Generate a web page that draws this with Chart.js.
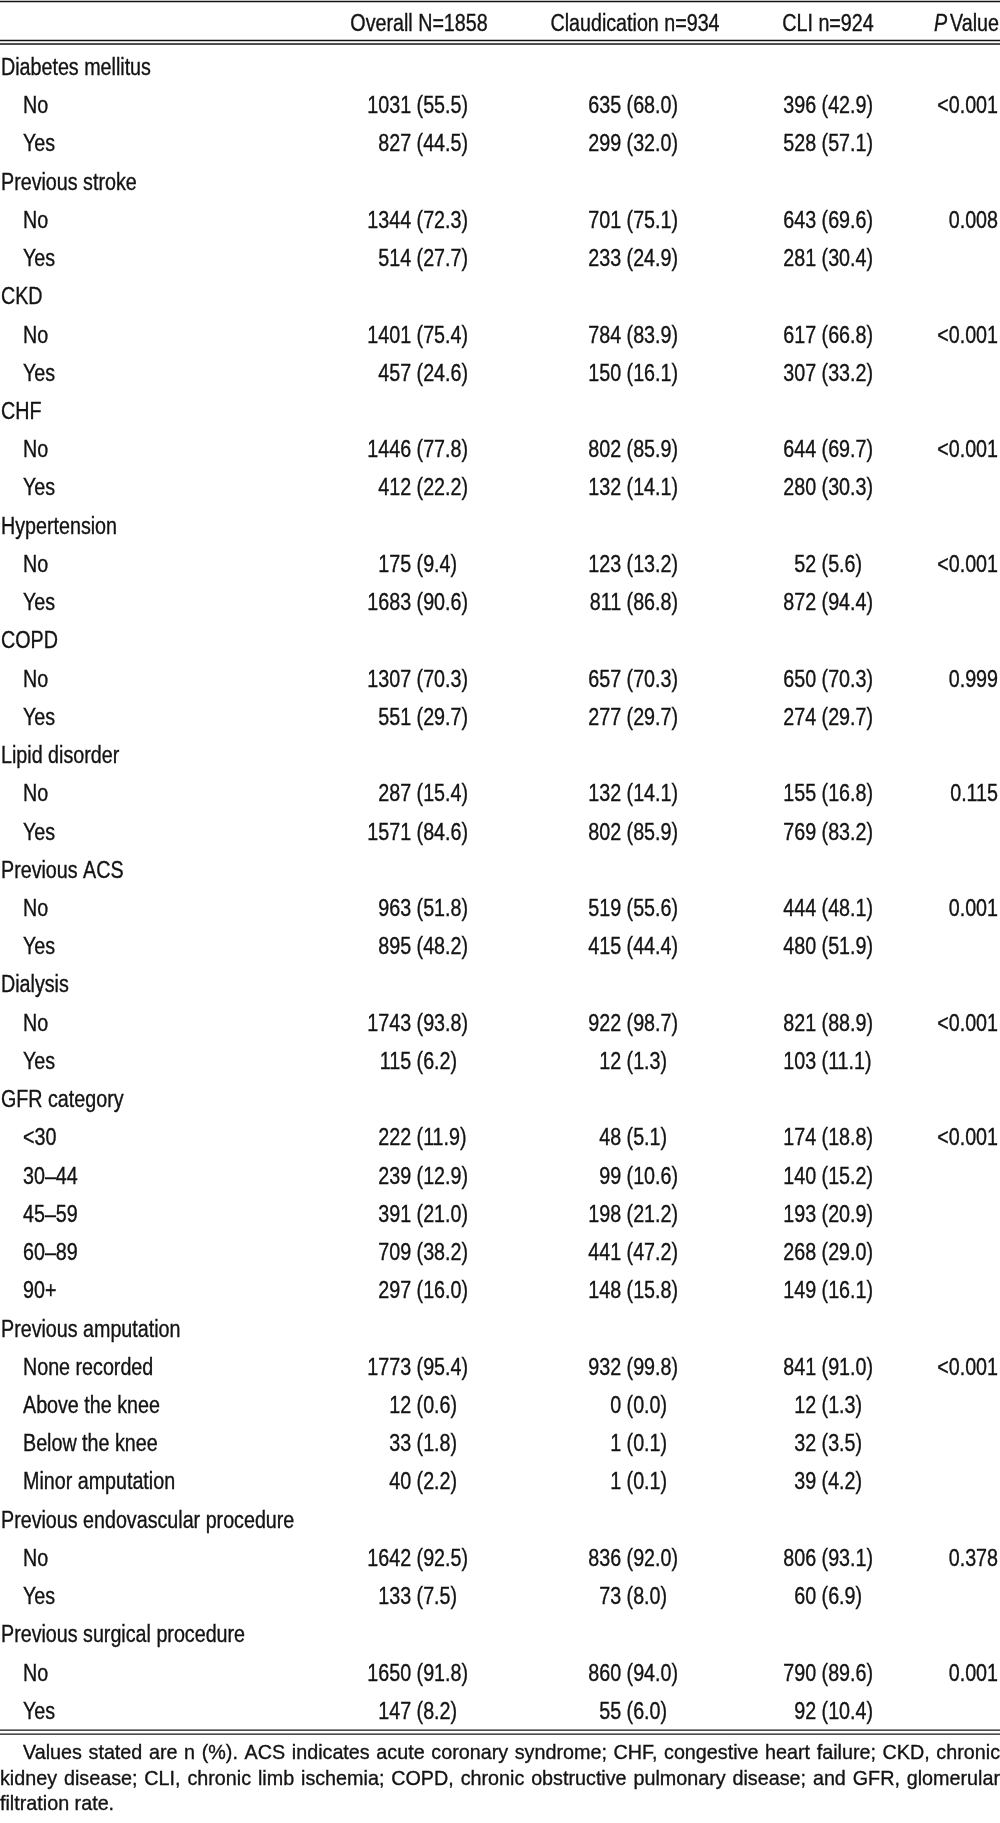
<!DOCTYPE html>
<html>
<head>
<meta charset="utf-8">
<script src="https://cdn.jsdelivr.net/npm/chart.js@4.4.1/dist/chart.umd.min.js"></script>
<style>
  html, body { margin: 0; padding: 0; background: #fff; }
  canvas { display: block; }
</style>
</head>
<body>
<canvas id="tbl" width="1000" height="1823"></canvas>
<script>
// row labels, group headings have no values
const rowLabels = [
  'Diabetes mellitus', 'No', 'Yes',
  'Previous stroke', 'No', 'Yes',
  'CKD', 'No', 'Yes',
  'CHF', 'No', 'Yes',
  'Hypertension', 'No', 'Yes',
  'COPD', 'No', 'Yes',
  'Lipid disorder', 'No', 'Yes',
  'Previous ACS', 'No', 'Yes',
  'Dialysis', 'No', 'Yes',
  'GFR category', '<30', '30–44', '45–59', '60–89', '90+',
  'Previous amputation', 'None recorded', 'Above the knee', 'Below the knee', 'Minor amputation',
  'Previous endovascular procedure', 'No', 'Yes',
  'Previous surgical procedure', 'No', 'Yes'
];

const overallN = [
  null, 1031, 827, null, 1344, 514, null, 1401, 457, null, 1446, 412,
  null, 175, 1683, null, 1307, 551, null, 287, 1571, null, 963, 895,
  null, 1743, 115, null, 222, 239, 391, 709, 297,
  null, 1773, 12, 33, 40, null, 1642, 133, null, 1650, 147
];
const overallPct = [
  null, 55.5, 44.5, null, 72.3, 27.7, null, 75.4, 24.6, null, 77.8, 22.2,
  null, 9.4, 90.6, null, 70.3, 29.7, null, 15.4, 84.6, null, 51.8, 48.2,
  null, 93.8, 6.2, null, 11.9, 12.9, 21.0, 38.2, 16.0,
  null, 95.4, 0.6, 1.8, 2.2, null, 92.5, 7.5, null, 91.8, 8.2
];
const claudN = [
  null, 635, 299, null, 701, 233, null, 784, 150, null, 802, 132,
  null, 123, 811, null, 657, 277, null, 132, 802, null, 519, 415,
  null, 922, 12, null, 48, 99, 198, 441, 148,
  null, 932, 0, 1, 1, null, 836, 73, null, 860, 55
];
const claudPct = [
  null, 68.0, 32.0, null, 75.1, 24.9, null, 83.9, 16.1, null, 85.9, 14.1,
  null, 13.2, 86.8, null, 70.3, 29.7, null, 14.1, 85.9, null, 55.6, 44.4,
  null, 98.7, 1.3, null, 5.1, 10.6, 21.2, 47.2, 15.8,
  null, 99.8, 0.0, 0.1, 0.1, null, 92.0, 8.0, null, 94.0, 6.0
];
const cliN = [
  null, 396, 528, null, 643, 281, null, 617, 307, null, 644, 280,
  null, 52, 872, null, 650, 274, null, 155, 769, null, 444, 480,
  null, 821, 103, null, 174, 140, 193, 268, 149,
  null, 841, 12, 32, 39, null, 806, 60, null, 790, 92
];
const cliPct = [
  null, 42.9, 57.1, null, 69.6, 30.4, null, 66.8, 33.2, null, 69.7, 30.3,
  null, 5.6, 94.4, null, 70.3, 29.7, null, 16.8, 83.2, null, 48.1, 51.9,
  null, 88.9, 11.1, null, 18.8, 15.2, 20.9, 29.0, 16.1,
  null, 91.0, 1.3, 3.5, 4.2, null, 93.1, 6.9, null, 89.6, 10.4
];
const pValues = [
  null, '<0.001', null, null, '0.008', null, null, '<0.001', null, null, '<0.001', null,
  null, '<0.001', null, null, '0.999', null, null, '0.115', null, null, '0.001', null,
  null, '<0.001', null, null, '<0.001', null, null, null, null,
  null, '<0.001', null, null, null, null, '0.378', null, null, '0.001', null
];

const columnHeaders = ['Overall N=1858', 'Claudication n=934', 'CLI n=924'];

const footnoteLines = [
  'Values stated are n (%). ACS indicates acute coronary syndrome; CHF, congestive heart failure; CKD, chronic',
  'kidney disease; CLI, chronic limb ischemia; COPD, chronic obstructive pulmonary disease; and GFR, glomerular',
  'filtration rate.'
];

// layout (x in canvas px, the x scale runs 0..1000)
const FONT = '"Liberation Sans", Arial, sans-serif';
const BODY_SIZE = 23, BODY_SX = 0.856;
const NOTE_SIZE = 21, NOTE_SX = 0.94;
const INK = '#141213';
const colRight = [468, 678, 873];
const headCenter = [419, 635, 828];
const pRight = 998;
const indent = 23;

function textW(ctx, txt, sx) { return ctx.measureText(txt).width * sx; }

function putText(ctx, txt, x, y, align, sx) {
  const w = textW(ctx, txt, sx);
  let left = x;
  if (align === 'right') left = x - w;
  else if (align === 'center') left = x - w / 2;
  ctx.save();
  ctx.translate(left, y);
  ctx.scale(sx, 1);
  ctx.textAlign = 'left';
  ctx.fillText(txt, 0, 0);
  ctx.lineWidth = 0.35;
  ctx.strokeText(txt, 0, 0);
  ctx.restore();
  return w;
}

function rule(ctx, y, w) {
  ctx.beginPath();
  ctx.lineWidth = w;
  ctx.moveTo(0, y);
  ctx.lineTo(1000, y);
  ctx.stroke();
}

const tablePlugin = {
  id: 'tablePlugin',
  afterDatasetsDraw(chart) {
    const ctx = chart.ctx;
    const area = chart.chartArea;
    const xs = chart.scales.x;
    ctx.save();
    ctx.fillStyle = INK;
    ctx.strokeStyle = INK;
    ctx.textBaseline = 'middle';
    ctx.font = BODY_SIZE + 'px ' + FONT;

    // rules
    rule(ctx, 1.5, 1.6);
    rule(ctx, area.top - 9, 1.4);
    rule(ctx, area.top - 5.5, 1.4);
    rule(ctx, area.bottom - 1.5, 1.4);
    rule(ctx, area.bottom + 2.5, 1.4);

    // header
    const hy = 25;
    columnHeaders.forEach((h, i) => putText(ctx, h, xs.getPixelForValue(headCenter[i]), hy, 'center', BODY_SX));
    const vw = putText(ctx, 'Value', xs.getPixelForValue(pRight + 1), hy, 'right', BODY_SX);
    ctx.font = 'italic ' + BODY_SIZE + 'px ' + FONT;
    putText(ctx, 'P', xs.getPixelForValue(pRight + 1) - vw - 3, hy, 'right', BODY_SX);
    ctx.font = BODY_SIZE + 'px ' + FONT;

    // cells, one dataset per column, positions from the scales
    const pctSlot = textW(ctx, '(00.0)', BODY_SX);
    const gap = textW(ctx, ' ', BODY_SX);
    chart.data.datasets.forEach((ds, di) => {
      const meta = chart.getDatasetMeta(di);
      meta.data.forEach((pt, j) => {
        const cell = ds.cells[j];
        if (ds.kind === 'label') {
          putText(ctx, cell, pt.x, pt.y, 'left', BODY_SX);
        } else if (ds.kind === 'count') {
          const anchor = pt.x - pctSlot;
          putText(ctx, '(' + cell.pct.toFixed(1) + ')', anchor, pt.y, 'left', BODY_SX);
          putText(ctx, String(cell.n), anchor - gap, pt.y, 'right', BODY_SX);
        } else if (ds.kind === 'p') {
          putText(ctx, cell, pt.x, pt.y, 'right', BODY_SX);
        }
      });
    });

    // footnote, justified except last line
    ctx.font = NOTE_SIZE + 'px ' + FONT;
    const noteY = [1753.5, 1779, 1804.5];
    footnoteLines.forEach((line, li) => {
      const startX = li === 0 ? indent : 0;
      const words = line.split(' ');
      const last = li === footnoteLines.length - 1;
      if (last) { putText(ctx, line, startX, noteY[li], 'left', NOTE_SX); return; }
      const wordsW = words.reduce((s, w) => s + textW(ctx, w, NOTE_SX), 0);
      const space = (1000 - startX - wordsW) / (words.length - 1);
      let x = startX;
      words.forEach(w => { x += putText(ctx, w, x, noteY[li], 'left', NOTE_SX) + space; });
    });
    ctx.restore();
  }
};

function countDataset(ns, pcts, right) {
  const data = [], cells = [];
  ns.forEach((n, i) => {
    if (n === null) return;
    data.push({ x: right, y: i });
    cells.push({ n: n, pct: pcts[i] });
  });
  return { kind: 'count', data: data, cells: cells, pointRadius: 0 };
}

const labelData = rowLabels.map((l, i) => ({ x: overallN[i] === null ? 1 : indent, y: i }));
const pData = [], pCells = [];
pValues.forEach((p, i) => { if (p !== null) { pData.push({ x: pRight, y: i }); pCells.push(p); } });

new Chart(document.getElementById('tbl'), {
  type: 'scatter',
  data: {
    datasets: [
      { kind: 'label', data: labelData, cells: rowLabels, pointRadius: 0 },
      countDataset(overallN, overallPct, colRight[0]),
      countDataset(claudN, claudPct, colRight[1]),
      countDataset(cliN, cliPct, colRight[2]),
      { kind: 'p', data: pData, cells: pCells, pointRadius: 0 }
    ]
  },
  options: {
    responsive: false,
    animation: false,
    devicePixelRatio: 1,
    layout: { padding: { top: 49.5, bottom: 91.4, left: 0, right: 0 } },
    scales: {
      x: { type: 'linear', min: 0, max: 1000, display: false },
      y: { type: 'linear', min: -0.5, max: rowLabels.length - 0.5, reverse: true, display: false }
    },
    plugins: { legend: { display: false }, tooltip: { enabled: false } }
  },
  plugins: [tablePlugin]
});
</script>
</body>
</html>
